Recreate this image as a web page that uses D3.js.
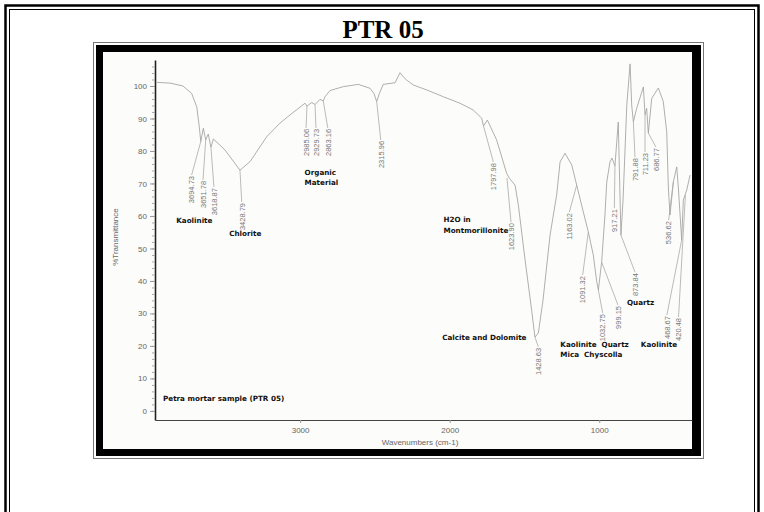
<!DOCTYPE html>
<html>
<head>
<meta charset="utf-8">
<script src="https://cdn.jsdelivr.net/npm/d3@7"></script>
<style>
  html, body { margin: 0; padding: 0; background: #ffffff; }
  svg { display: block; }
</style>
</head>
<body>
<svg id="chart" width="764" height="512"></svg>
<script>
// ---------------- DATA ----------------
const title = "PTR 05";
const sampleLabel = "Petra mortar sample (PTR 05)";
const xTitle = "Wavenumbers (cm-1)";
const yTitle = "%Transmittance";

// spectrum (wavenumber cm-1, %T)
const wavenumbers = [3957,3870,3783,3725,3691,3674,3664,3647,3631,3614,3596,3580,3502,3402,3335,3223,3134,3067,2967,2954,2922,2900,2867,2845,2833,2800,2711,2611,2533,2506,2488,2470,2444,2365,2332,2310,2287,2243,2154,2043,1931,1842,1786,1774,1748,1686,1619,1601,1563,1541,1496,1452,1430,1407,1376,1329,1285,1262,1229,1184,1151,1107,1073,1040,1017,1006,984,962,950,928,915,895,883,873,855,841,816,794,783,772,750,705,694,683,672,649,605,572,549,538,527,505,482,471,449,438,415,393];
const transmittance = [101.1,100.9,100.0,97.7,93.6,87.5,82.9,87.0,83.4,85.2,81.1,83.7,80.3,74.1,76.7,84.4,88.6,91.1,94.7,93.8,94.9,94.3,95.9,95.4,96.7,98.6,99.8,100.5,99.3,97.7,95.2,97.7,100.5,101.0,104.1,102.8,101.8,100.3,98.8,96.7,94.7,92.6,90.1,87.7,89.5,83.4,73.1,71.6,69.5,63.4,46.5,31.0,22.7,24.0,34.1,54.1,66.4,76.6,79.3,75.7,69.5,61.3,55.1,48.0,39.8,37.2,45.8,60.3,70.4,76.7,77.8,75.4,82.9,88.9,54.1,64.9,94.1,106.8,94.1,89.0,93.1,99.7,91.1,93.1,85.5,96.2,99.4,95.2,85.9,68.6,60.3,70.4,75.1,68.6,52.6,64.9,68.0,72.6];

// peak annotations: label, label anchor (wavenumber, %T at the label end), marked point on curve
const peakLabels = ["3694.73","3651.78","3618.87","3428.79","2985.06","2929.73","2863.16","2315.96","1797.98","1623.90","1428.63","1163.02","1091.32","1032.75","999.15","917.21","873.84","791.88","711.23","686.77","536.62","468.67","420.48"];
const labelWave  = [3725,3649,3576,3390,2960,2894,2815,2461,1708,1590,1407,1200,1111,977,875,899,761,761,694,621,536,548,470];
const labelT     = [72.6,71.1,68.9,64.3,87.1,87.1,87.1,83.4,76.6,58.1,19.7,61.2,41.8,30.1,32.6,62.4,42.7,78.1,79.7,81.2,58.7,29.5,28.9];
const peakWave   = [3664,3631,3596,3402,2954,2900,2845,2488,1774,1617,1430,1151,1073,1006,984,895,855,772,694,672,505,449,424];
const peakT      = [82.9,83.4,81.1,74.1,93.8,94.3,95.4,95.2,87.7,71.7,22.7,69.5,55.1,37.2,45.8,75.4,54.1,89.0,91.1,85.5,70.4,52.6,66.4];

// mineral group labels (lines of text, anchor wavenumber of left edge, %T of first line)
const groupText = [["Kaolinite"],["Chlorite"],["Organic","Material"],["H2O in","Montmorillonite"],["Calcite and Dolomite"],["Kaolinite  Quartz","Mica  Chyscolla"],["Quartz"],["Kaolinite"]];
const groupWave = [3828,3474,2970,2041,2050,1260,815,722];
const groupT    = [57.9,53.8,72.7,58.0,21.8,19.7,32.5,19.7];

const yTicks = [0,10,20,30,40,50,60,70,80,90,100];
const yMinorTicks = d3.range(0, 108, 2);
const xTicks = [3000,2000,1000];

// ---------------- DRAW ----------------
const svg = d3.select("#chart");

// outer double frame
svg.append("rect").attr("x",5.5).attr("y",5.5).attr("width",753).attr("height",530)
  .attr("fill","none").attr("stroke","#000").attr("stroke-width",2.5);
svg.append("rect").attr("x",9.5).attr("y",9.5).attr("width",745).attr("height",530)
  .attr("fill","none").attr("stroke","#000").attr("stroke-width",1);

// title
svg.append("text").attr("x",383).attr("y",38).attr("text-anchor","middle")
  .style("font-family","'Liberation Serif','Times New Roman',serif")
  .style("font-weight","bold").style("font-size","25px").text(title);

// inner framed picture
svg.append("rect").attr("x",93.5).attr("y",42.5).attr("width",610).attr("height",416)
  .attr("fill","none").attr("stroke","#777").attr("stroke-width",1);
svg.append("rect").attr("x",96).attr("y",45).attr("width",605).attr("height",411).attr("fill","#000");
svg.append("rect").attr("x",103).attr("y",52).attr("width",589).attr("height",397).attr("fill","#fcfcfa");

const x = d3.scaleLinear().domain([3970, 380]).range([155, 692]);
const y = d3.scaleLinear().domain([-2.8, 108]).range([420, 60]);

const font = "Arial, 'Liberation Sans', sans-serif";

// y axis
const gy = svg.append("g").attr("transform","translate(155,0)");
gy.call(d3.axisLeft(y).tickValues(yMinorTicks).tickSize(3).tickSizeOuter(0).tickFormat(""));
gy.select(".domain").attr("stroke","#222").attr("stroke-width",1.6);
gy.selectAll(".tick line").attr("stroke","#aaa");
const gy2 = svg.append("g").attr("transform","translate(155,0)");
gy2.call(d3.axisLeft(y).tickValues(yTicks).tickSize(5).tickPadding(3).tickSizeOuter(0));
gy2.select(".domain").remove();
gy2.selectAll(".tick line").attr("stroke","#999");
gy2.selectAll(".tick text").attr("fill","#666").style("font-family",font).style("font-size","8px");

// x axis
const gx = svg.append("g").attr("transform","translate(0,420)");
gx.call(d3.axisBottom(x).tickValues(xTicks).tickFormat(d3.format("d")).tickSize(3).tickPadding(4).tickSizeOuter(0));
gx.select(".domain").attr("stroke","#444").attr("stroke-width",1.2);
gx.selectAll(".tick line").attr("stroke","#999");
gx.selectAll(".tick text").attr("fill","#666").style("font-family",font).style("font-size","8px");

// axis titles
svg.append("text").attr("x",420).attr("y",445).attr("text-anchor","middle")
  .attr("fill","#666").style("font-family",font).style("font-size","8px").text(xTitle);
svg.append("text").attr("transform","translate(118,237) rotate(-90)").attr("text-anchor","middle")
  .attr("fill","#666").style("font-family",font).style("font-size","8px").text(yTitle);

// spectrum
const pts = wavenumbers.map((w,i)=>[w, transmittance[i]]);
svg.append("path").datum(pts)
  .attr("fill","none").attr("stroke","#a0a0a0").attr("stroke-width",0.85)
  .attr("d", d3.line().x(d=>x(d[0])).y(d=>y(d[1])));

// peak annotations
peakLabels.forEach((lab,i)=>{
  svg.append("line")
    .attr("x1",x(labelWave[i])).attr("y1",y(labelT[i]))
    .attr("x2",x(peakWave[i])).attr("y2",y(peakT[i]))
    .attr("stroke","#aaa").attr("stroke-width",0.8);
  svg.append("text")
    .attr("transform",`translate(${x(labelWave[i])+2.8},${y(labelT[i])+1}) rotate(-90)`)
    .attr("text-anchor","end").attr("fill","#777")
    .style("font-family",font).style("font-size","7.5px").text(lab);
});

// group labels
const bold = "'DejaVu Sans', Verdana, sans-serif";
groupText.forEach((lines,i)=>{
  const t = svg.append("text").attr("x",x(groupWave[i])).attr("y",y(groupT[i]))
    .attr("fill","#111").style("font-family",bold).style("font-weight","bold").style("font-size","7.2px")
    .attr("xml:space","preserve");
  lines.forEach((ln,j)=>{
    t.append("tspan").attr("x",x(groupWave[i])).attr("dy", j===0?0:10.5).text(ln);
  });
});

// sample label
svg.append("text").attr("x",163).attr("y",401)
  .attr("fill","#111").style("font-family",bold).style("font-weight","bold").style("font-size","7.2px")
  .text(sampleLabel);
</script>
</body>
</html>
